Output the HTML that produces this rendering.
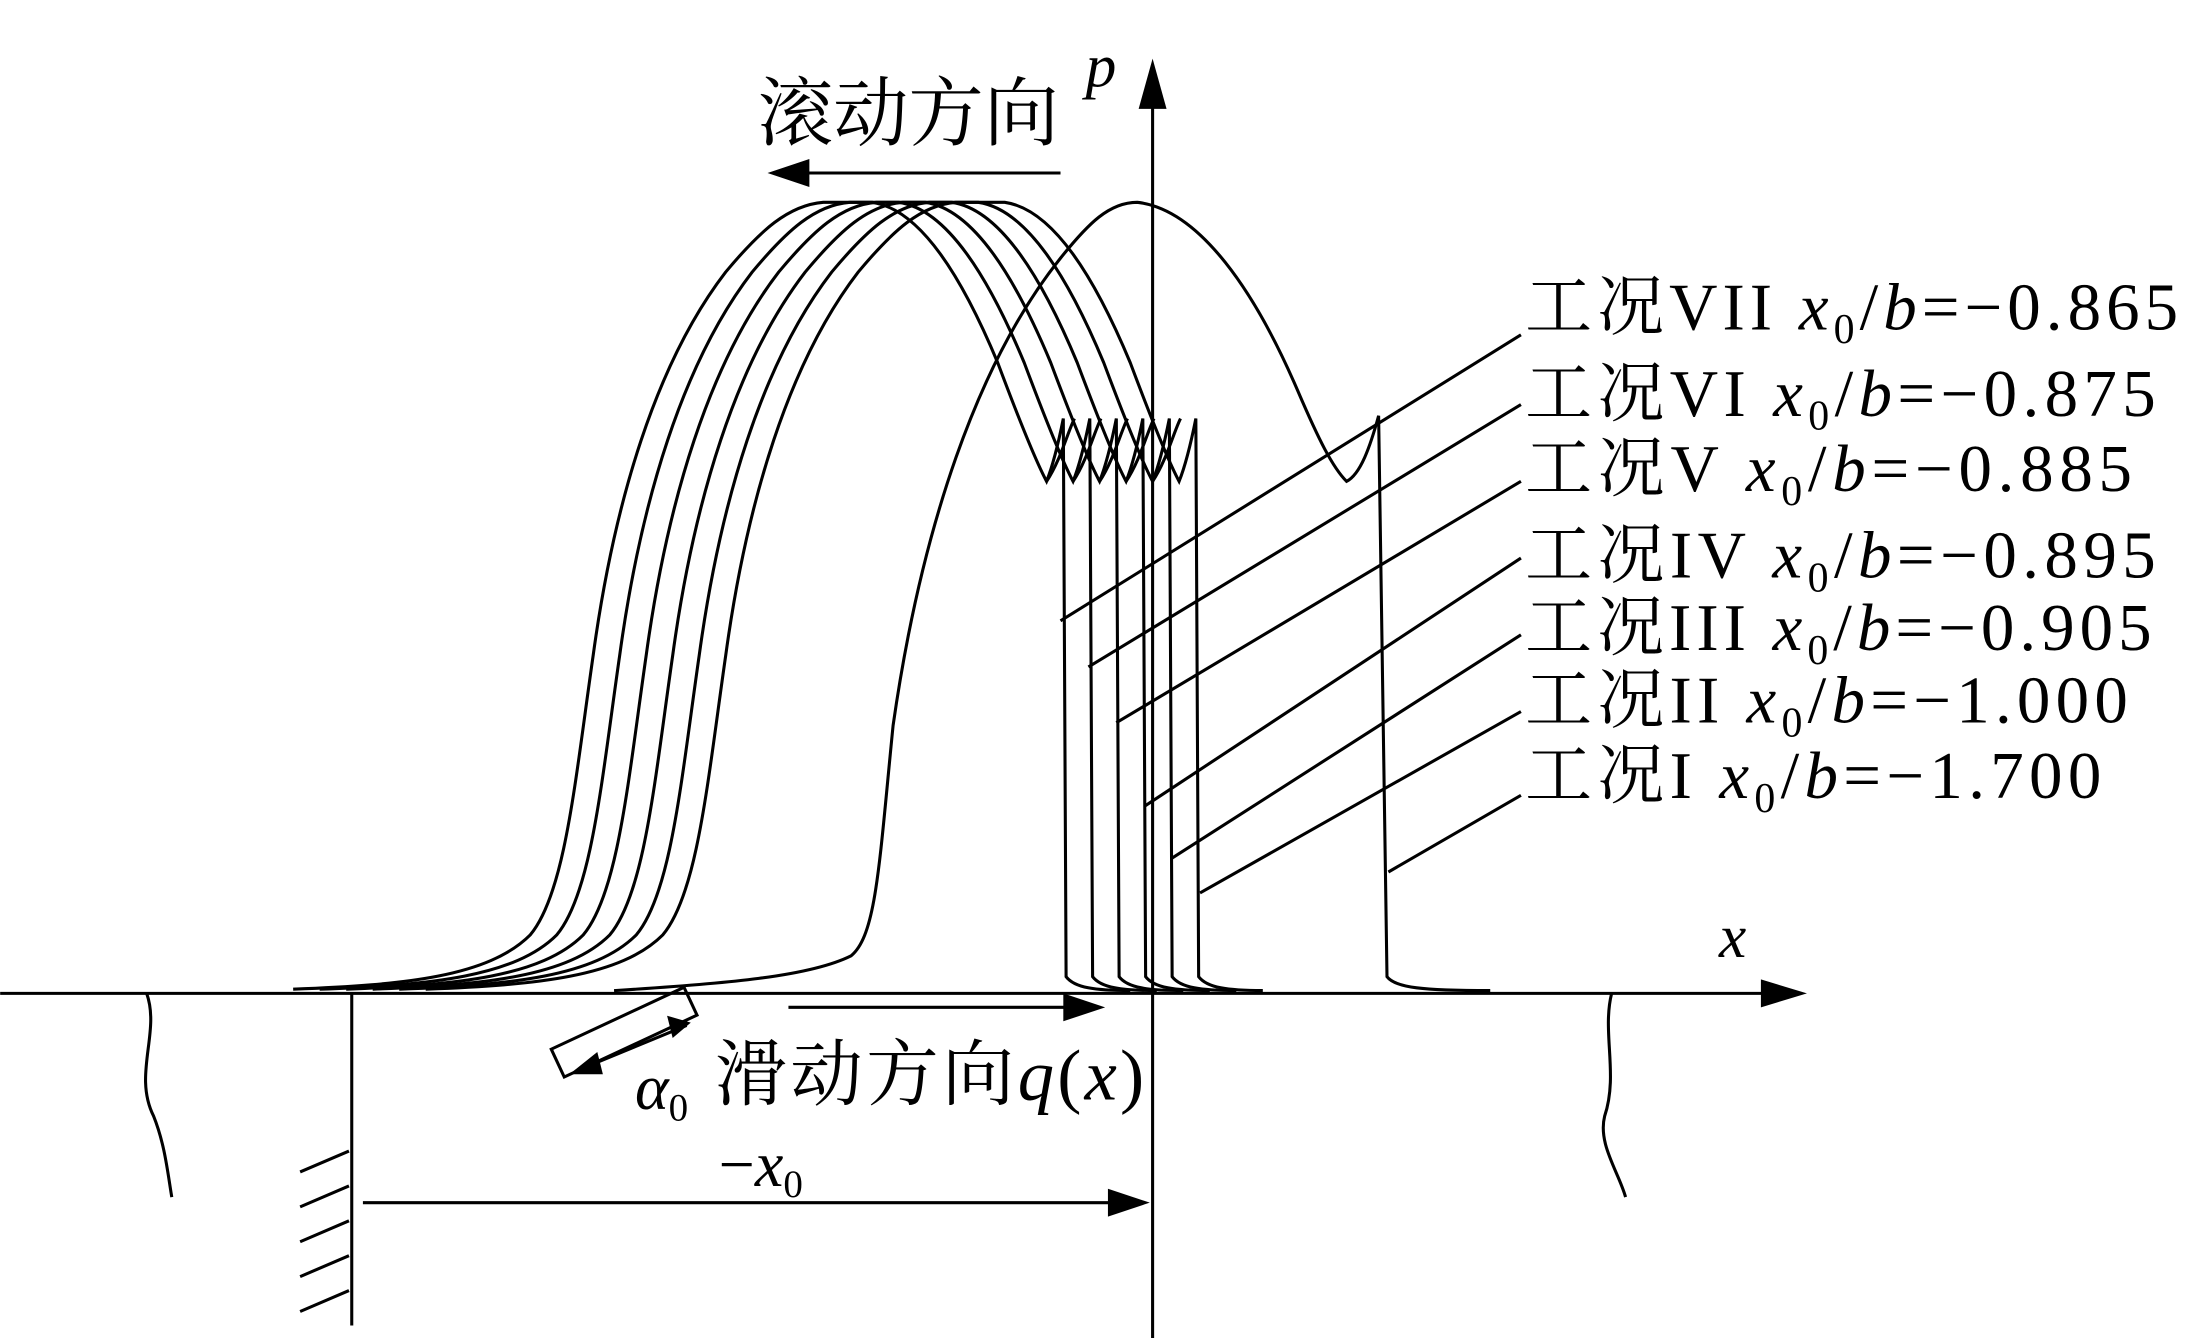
<!DOCTYPE html>
<html><head><meta charset="utf-8"><style>
html,body{margin:0;padding:0;background:#fff}
svg{display:block}
text{font-family:"Liberation Serif","Noto Serif CJK SC",serif;fill:#000}
</style></head><body>
<svg width="2188" height="1338" viewBox="0 0 1568 959" xmlns="http://www.w3.org/2000/svg">
<g stroke="#000" fill="none" stroke-width="2.2">
<line x1="0" y1="712" x2="1272" y2="712"/>
<line x1="826" y1="959" x2="826" y2="70"/>
<g id="c">
<path d="M210,709 C290,706 350,700 380,670 C405,640 412,560 425,470 C440,360 470,260 520,195 C545,165 565,147 590,145 L625,145 C660,150 690,200 715,260 C730,300 742,330 750,345 C756,330 760,310 762,300 L764,700 C770,708 785,710 810,710"/>
</g>
<use href="#c" x="19"/>
<use href="#c" x="38"/>
<use href="#c" x="57"/>
<use href="#c" x="76"/>
<use href="#c" x="95"/>
<path d="M750,345 C760,330 765,310 770,300 M769,345 C779,330 784,310 789,300 M788,345 C798,330 803,310 808,300 M807,345 C817,330 822,310 827,300 M826,345 C836,330 841,310 846,300"/>
<path d="M440,710 C520,705 580,700 610,685 C628,670 630,620 640,520 C660,380 700,260 760,185 C780,160 795,145 815,145 C860,150 900,210 930,280 C945,315 955,335 965,345 C975,340 982,320 988,298 L994,700 C1000,708 1020,710 1068,710"/>
<line x1="1090" y1="240" x2="760" y2="445"/>
<line x1="1090" y1="290" x2="780" y2="478"/>
<line x1="1090" y1="345" x2="800" y2="518"/>
<line x1="1090" y1="400" x2="820" y2="578"/>
<line x1="1090" y1="455" x2="840" y2="615"/>
<line x1="1090" y1="510" x2="860" y2="640"/>
<line x1="1090" y1="570" x2="995" y2="625"/>
<line x1="760" y1="124" x2="570" y2="124"/>
<line x1="565" y1="722" x2="772" y2="722"/>
<line x1="260" y1="862" x2="805" y2="862"/>
<line x1="252" y1="712" x2="252" y2="950"/>
<path d="M215,840 L250,825 M215,865 L250,850 M215,890 L250,875 M215,915 L250,900 M215,940 L250,925"/>
<path d="M105,712 C115,740 95,770 110,800 C118,820 120,840 123,858"/>
<path d="M1155,712 C1148,740 1160,770 1150,800 C1145,820 1160,840 1165,858"/>
<g transform="translate(395,752) rotate(-25)">
<rect x="0" y="0" width="105" height="22"/>
</g>
<line x1="492" y1="735" x2="412" y2="768"/>
</g>
<g fill="#000">
<polygon points="1295,712 1262,702 1262,722"/>
<polygon points="826,42 816,78 836,78"/>
<polygon points="550,124 580,114 580,134"/>
<polygon points="792,722 762,712 762,732"/>
<polygon points="824,862 794,852 794,872"/>
<polygon points="408,770 428,754 432,770"/>
<polygon points="495,733 478,728 482,744"/>
</g>
<text x="543" y="100" font-size="54" font-family="Liberation Sans,'Noto Sans CJK SC',sans-serif">滚动方向</text>
<text x="778" y="62" font-size="44" font-style="italic">p</text>
<text x="1232" y="686" font-size="44" font-style="italic">x</text>
<g font-size="48">
<text x="1093" y="236" textLength="468">工况VII <tspan font-style="italic">x</tspan><tspan font-size="30" dy="10">0</tspan><tspan dy="-10">/</tspan><tspan font-style="italic">b</tspan>=−0.865</text>
<text x="1093" y="298" textLength="452">工况VI <tspan font-style="italic">x</tspan><tspan font-size="30" dy="10">0</tspan><tspan dy="-10">/</tspan><tspan font-style="italic">b</tspan>=−0.875</text>
<text x="1093" y="352" textLength="435">工况V <tspan font-style="italic">x</tspan><tspan font-size="30" dy="10">0</tspan><tspan dy="-10">/</tspan><tspan font-style="italic">b</tspan>=−0.885</text>
<text x="1093" y="414" textLength="452">工况IV <tspan font-style="italic">x</tspan><tspan font-size="30" dy="10">0</tspan><tspan dy="-10">/</tspan><tspan font-style="italic">b</tspan>=−0.895</text>
<text x="1093" y="466" textLength="449">工况III <tspan font-style="italic">x</tspan><tspan font-size="30" dy="10">0</tspan><tspan dy="-10">/</tspan><tspan font-style="italic">b</tspan>=−0.905</text>
<text x="1093" y="518" textLength="432">工况II <tspan font-style="italic">x</tspan><tspan font-size="30" dy="10">0</tspan><tspan dy="-10">/</tspan><tspan font-style="italic">b</tspan>=−1.000</text>
<text x="1093" y="572" textLength="413">工况I <tspan font-style="italic">x</tspan><tspan font-size="30" dy="10">0</tspan><tspan dy="-10">/</tspan><tspan font-style="italic">b</tspan>=−1.700</text>
</g>
<text x="455" y="795" font-size="46"><tspan font-style="italic">α</tspan><tspan font-size="28" dy="8">0</tspan></text>
<text x="512" y="788" font-size="52" textLength="308">滑动方向<tspan font-style="italic">q</tspan>(<tspan font-style="italic">x</tspan>)</text>
<text x="515" y="850" font-size="46">−<tspan font-style="italic">x</tspan><tspan font-size="28" dy="8">0</tspan></text>
</svg>
</body></html>
